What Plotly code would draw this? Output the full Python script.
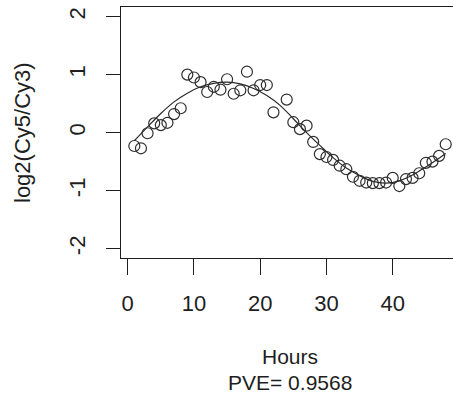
import plotly.graph_objects as go

# Observed expression values (hour 23 absent)
hours = [1, 2, 3, 4, 5, 6, 7, 8, 9, 10, 11, 12, 13, 14, 15, 16, 17, 18, 19, 20, 21, 22,
         24, 25, 26, 27, 28, 29, 30, 31, 32, 33, 34, 35, 36, 37, 38, 39, 40, 41, 42, 43,
         44, 45, 46, 47, 48]
log_ratio = [-0.23, -0.27, -0.01, 0.16, 0.13, 0.17, 0.32, 0.42, 1.00, 0.95, 0.87, 0.70,
             0.79, 0.74, 0.92, 0.67, 0.73, 1.05, 0.73, 0.82, 0.82, 0.35,
             0.57, 0.18, 0.06, 0.12, -0.16, -0.37, -0.42, -0.47, -0.57, -0.63, -0.76,
             -0.83, -0.86, -0.87, -0.87, -0.86, -0.78, -0.92, -0.80, -0.78, -0.70,
             -0.52, -0.50, -0.40, -0.20]

# Fitted curve
fit_hours = [1, 3, 5, 7, 9, 11, 13, 15, 17, 19, 21, 23, 25, 27, 29, 31, 33, 35, 37, 39,
             41, 43, 45, 47, 48]
fit_values = [-0.14, 0.10, 0.33, 0.53, 0.68, 0.79, 0.85, 0.87, 0.84, 0.76, 0.64, 0.47,
              0.24, 0.00, -0.22, -0.43, -0.61, -0.74, -0.84, -0.87, -0.83, -0.73,
              -0.59, -0.44, -0.36]

x_ticks = [0, 10, 20, 30, 40]
y_ticks = [-2, -1, 0, 1, 2]

x_label = "Hours"
pve_label = "PVE= 0.9568"
y_label = "log2(Cy5/Cy3)"

FONT = "Liberation Sans, Arial, sans-serif"
INK = "#1e1e1e"
FS = 22

fig = go.Figure()
fig.add_trace(go.Scatter(
    x=fit_hours, y=fit_values, mode="lines",
    line=dict(color="#2a2a2a", width=1.2, shape="spline", smoothing=1.0),
    showlegend=False, hoverinfo="skip"))
fig.add_trace(go.Scatter(
    x=hours, y=log_ratio, mode="markers",
    marker=dict(symbol="circle-open", size=11, color="#2e2e2e",
                line=dict(width=1.2, color="#2e2e2e")),
    showlegend=False))

W, H = 453, 401
L, R, T, B = 121, 0, 7, 401 - 258
pw = W - L - R
ph = H - T - B

fig.update_layout(
    width=W, height=H,
    margin=dict(l=L, r=R, t=T, b=B, pad=0),
    paper_bgcolor="white", plot_bgcolor="white",
    font=dict(family=FONT, size=FS, color=INK),
    xaxis=dict(range=[-1.01, 49.1], tickvals=x_ticks, ticktext=[str(v) for v in x_ticks],
               showgrid=False, zeroline=False, showline=True, linecolor=INK,
               linewidth=1.4, mirror=True, ticks="outside", ticklen=16, tickwidth=1.2,
               tickcolor=INK, ticklabelstandoff=9,
               tickfont=dict(family=FONT, size=FS, color=INK)),
    yaxis=dict(range=[-2.16, 2.165], tickvals=y_ticks, ticktext=[str(v) for v in y_ticks],
               showgrid=False, zeroline=False, showline=True, linecolor=INK,
               linewidth=1.4, mirror=False, ticks="outside", ticklen=14, tickwidth=1.2,
               tickcolor=INK, tickangle=-90, ticklabelstandoff=12,
               tickfont=dict(family=FONT, size=FS, color=INK)),
    annotations=[
        dict(text=x_label, xref="paper", yref="paper",
             x=(290 - L) / pw, y=(258 - 356) / ph, xanchor="center", yanchor="middle",
             showarrow=False, font=dict(family=FONT, size=21, color=INK)),
        dict(text=pve_label, xref="paper", yref="paper",
             x=(290 - L) / pw, y=(258 - 382) / ph, xanchor="center", yanchor="middle",
             showarrow=False, font=dict(family=FONT, size=21, color=INK)),
        dict(text=y_label, xref="paper", yref="paper", textangle=-90,
             x=(22 - L) / pw, y=(258 - 133) / ph, xanchor="center", yanchor="middle",
             showarrow=False, font=dict(family=FONT, size=FS, color=INK)),
    ],
)

fig.write_html("out.html")
